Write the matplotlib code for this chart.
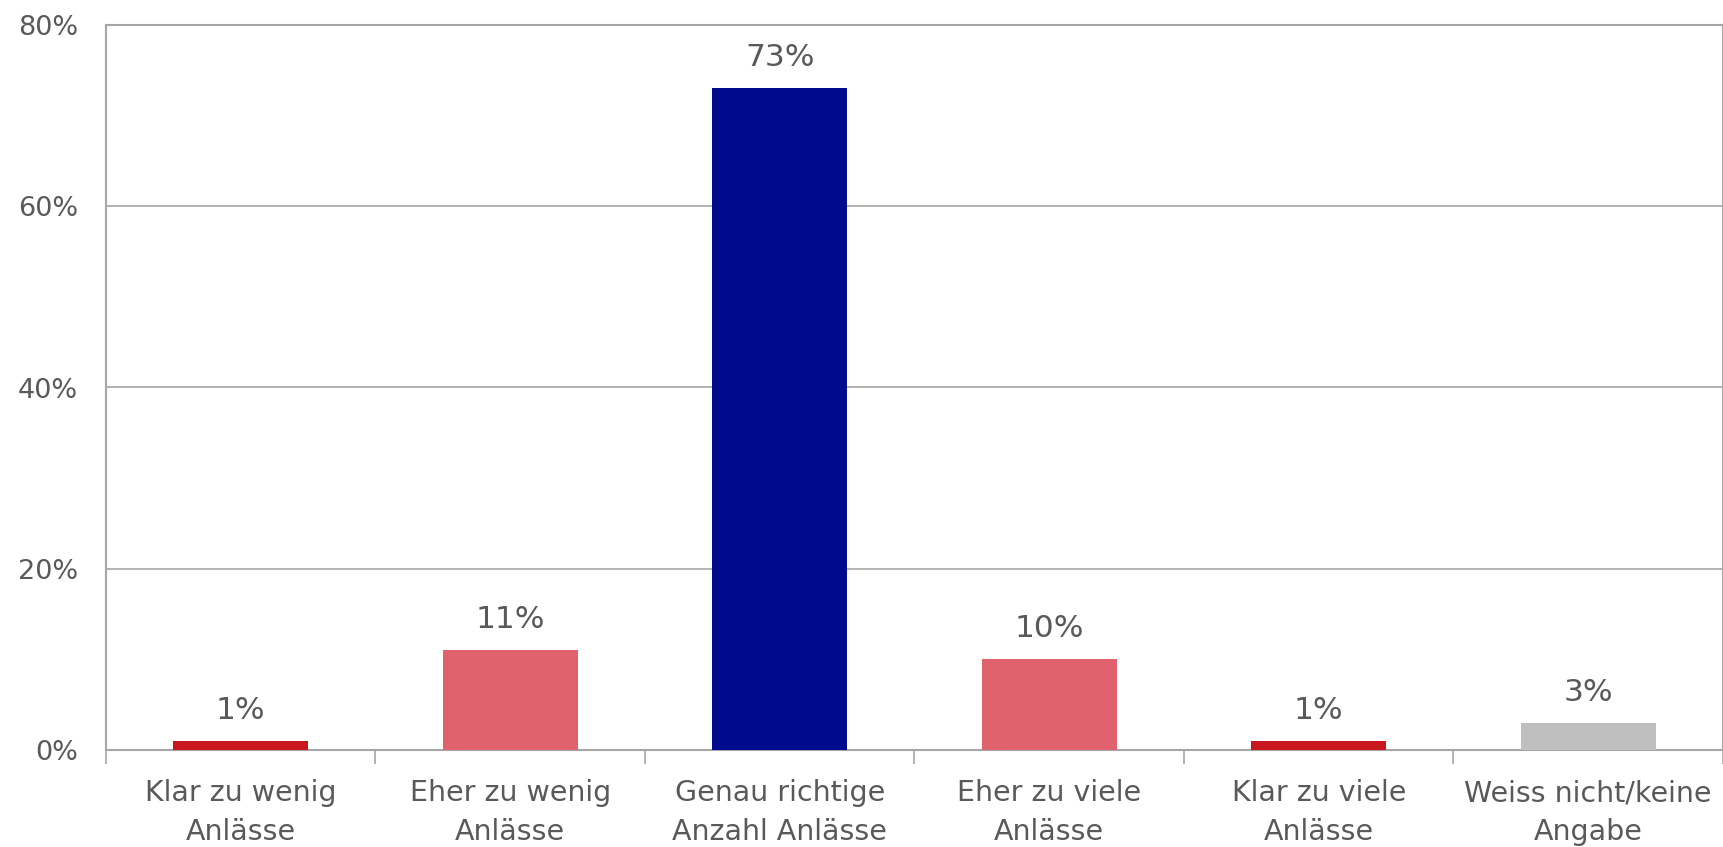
import numpy as np
import matplotlib
matplotlib.use('Agg')
import matplotlib.pyplot as plt
from matplotlib.ticker import FixedLocator, PercentFormatter

categories = ['Klar zu wenig\nAnlässe', 'Eher zu wenig\nAnlässe', 'Genau richtige\nAnzahl Anlässe',
              'Eher zu viele\nAnlässe', 'Klar zu viele\nAnlässe', 'Weiss nicht/keine\nAngabe']
values = [1, 11, 73, 10, 1, 3]
colors = ['#C8171E', '#E0626D', '#000A8C', '#E0626D', '#C8171E', '#BFBFBF']

TXT = '#595959'
AX = '#A6A6A6'

plt.rcParams['font.family'] = ['DejaVu Sans']

fig = plt.figure(figsize=(17.24, 8.47), dpi=100)
ax = fig.add_axes([106 / 1724, 1 - 750 / 847, (1723 - 106) / 1724, (750 - 25) / 847])

x = np.arange(len(values))
ax.bar(x, values, width=0.5, color=colors, zorder=3)
for xi, v in zip(x, values):
    ax.text(xi, v + 1.8, f'{v}%', ha='center', va='bottom', fontsize=22.5, color=TXT)

ax.set_xlim(-0.5, len(values) - 0.5)
ax.set_ylim(0, 80)
ax.set_yticks([0, 20, 40, 60, 80])
ax.yaxis.set_major_formatter(PercentFormatter(decimals=0))
ax.grid(axis='y', color=AX, linewidth=1.2, zorder=0)

ax.set_xticks(x)
ax.set_xticklabels(categories, fontsize=20.5, color=TXT, linespacing=1.5)
ax.xaxis.set_minor_locator(FixedLocator(np.arange(-0.5, len(values), 1.0)))
ax.tick_params(axis='x', which='major', length=0, pad=21)
ax.tick_params(axis='x', which='minor', length=10, width=1.2, color=AX)
ax.tick_params(axis='y', length=0, pad=20, labelsize=19.5, labelcolor=TXT)

for side in ['left', 'right', 'bottom', 'top']:
    ax.spines[side].set_color(AX)
    ax.spines[side].set_linewidth(1.5)

fig.savefig('out.png', dpi=100)
